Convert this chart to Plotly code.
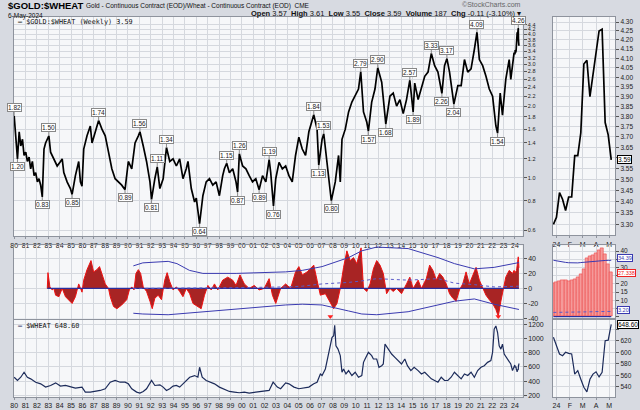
import math
from datetime import date
import plotly.graph_objects as go

W, H = 640, 410

# ---------------- DATA ----------------
# $GOLD:$WHEAT weekly ratio (decimal years / values)
ratio_years = [1980.00,1980.15,1980.29,1980.44,1980.58,1980.73,1980.87,1981.02,1981.16,1981.31,
               1981.45,1981.60,1981.75,1981.89,1982.04,1982.18,1982.33,1982.47,1982.62,1982.76,
               1983.05,1983.20,1983.34,1983.49,1983.78,1984.07,1984.22,1984.36,1984.65,1984.94,
               1985.09,1985.38,1985.67,1985.82,1985.96,1986.11,1986.40,1986.69,1986.84,1987.13,
               1987.42,1987.71,1988.00,1988.29,1988.58,1988.87,1989.16,1989.45,1989.74,1990.03,
               1990.33,1990.62,1990.91,1991.05,1991.34,1991.63,1991.93,1992.07,1992.36,1992.57,
               1992.80,1993.09,1993.38,1993.67,1993.96,1994.25,1994.54,1994.83,1995.12,1995.27,
               1995.56,1995.85,1996.00,1996.29,1996.58,1996.87,1997.16,1997.45,1997.74,1998.03,
               1998.32,1998.47,1998.67,1998.91,1999.20,1999.49,1999.63,1999.78,2000.07,2000.36,
               2000.65,2000.94,2001.23,2001.52,2001.82,2002.11,2002.40,2002.54,2002.78,2002.98,
               2003.27,2003.56,2003.85,2004.14,2004.43,2004.72,2005.01,2005.31,2005.60,2005.89,
               2006.32,2006.61,2006.76,2007.05,2007.20,2007.49,2007.86,2008.21,2008.50,2008.65,
               2008.80,2009.09,2009.38,2009.67,2009.96,2010.25,2010.45,2010.69,2010.98,2011.12,
               2011.41,2011.70,2011.94,2012.29,2012.65,2013.01,2013.30,2013.60,2013.89,2014.18,
               2014.47,2014.76,2015.05,2015.19,2015.49,2015.78,2016.07,2016.36,2016.65,2016.94,
               2017.23,2017.58,2017.81,2018.02,2018.25,2018.63,2018.98,2019.27,2019.56,2019.85,
               2020.14,2020.43,2020.66,2020.87,2021.16,2021.45,2021.74,2022.03,2022.32,2022.47,
               2022.70,2022.90,2023.19,2023.49,2023.63,2023.92]
ratio_vals = [1.82,1.45,1.20,1.56,1.36,1.45,1.24,1.28,1.17,1.22,
              1.09,1.17,1.02,1.05,0.96,0.99,0.93,0.83,1.32,1.40,
              1.50,1.28,1.24,1.20,1.12,1.17,1.20,1.05,0.96,0.90,
              0.85,1.02,1.17,0.96,0.92,1.32,1.50,1.65,1.40,1.56,
              1.74,1.60,1.50,1.28,1.09,0.99,0.96,0.93,0.89,1.17,
              1.09,1.40,1.50,1.56,1.36,1.17,0.96,0.81,0.99,1.11,
              0.90,0.99,1.34,1.17,1.20,1.12,1.20,0.99,1.09,1.17,
              0.90,0.79,0.82,0.64,0.84,0.96,0.99,0.93,0.96,0.84,
              1.02,1.09,1.15,1.05,1.09,0.96,0.87,1.26,1.12,1.09,
              1.02,0.96,0.99,0.89,1.02,0.96,1.19,1.05,0.76,0.99,
              1.16,1.09,1.12,1.02,0.96,1.24,1.48,1.32,1.24,1.56,
              1.84,1.60,1.13,1.45,1.53,1.17,0.80,0.96,1.24,0.96,
              1.45,1.60,1.89,2.08,2.22,2.36,2.79,1.89,1.71,1.57,
              2.08,2.36,2.90,2.52,1.68,2.20,2.27,2.00,2.13,1.86,
              2.13,2.57,1.89,2.50,2.13,2.36,2.67,2.78,3.33,2.96,
              2.78,2.26,2.96,3.17,2.78,2.04,2.44,2.44,3.14,2.78,
              2.87,3.46,4.09,3.14,2.96,2.67,2.36,2.20,1.65,1.54,
              2.27,1.83,2.59,3.14,2.59,3.36]

# $WHEAT weekly close
wheat_years = [1980.00,1980.29,1980.58,1980.87,1981.16,1981.45,1981.89,1982.33,1982.76,1983.20,
               1983.64,1984.07,1984.51,1984.94,1985.38,1985.96,1986.25,1986.69,1987.13,1987.56,
               1988.00,1988.44,1988.87,1989.31,1989.74,1990.03,1990.33,1990.76,1991.05,1991.34,
               1991.63,1992.07,1992.36,1992.80,1993.09,1993.38,1993.67,1993.96,1994.25,1994.54,
               1994.83,1995.12,1995.42,1995.85,1996.14,1996.29,1996.52,1996.87,1997.31,1997.60,
               1998.03,1998.47,1998.91,1999.34,1999.78,2000.22,2000.65,2001.23,2001.82,2002.40,
               2002.75,2003.12,2003.41,2003.85,2004.14,2004.58,2005.01,2005.45,2005.89,2006.32,
               2006.61,2006.90,2007.05,2007.34,2007.63,2007.78,2007.92,2008.07,2008.16,2008.27,
               2008.45,2008.65,2008.80,2008.94,2009.15,2009.38,2009.67,2009.96,2010.25,2010.54,
               2010.69,2010.83,2011.12,2011.41,2011.56,2011.85,2012.05,2012.29,2012.43,2012.58,
               2012.87,2013.16,2013.45,2013.74,2014.03,2014.32,2014.55,2014.85,2015.14,2015.49,
               2015.78,2016.07,2016.36,2016.65,2016.94,2017.23,2017.52,2017.81,2018.10,2018.39,
               2018.68,2018.98,2019.27,2019.56,2019.85,2020.14,2020.43,2020.72,2021.01,2021.30,
               2021.59,2021.88,2022.03,2022.17,2022.32,2022.47,2022.61,2022.76,2022.90,2023.05,
               2023.34,2023.63,2023.78,2023.92]
wheat_vals = [455,409,455,525,455,432,385,362,316,339,
              376,330,339,316,302,316,246,246,255,269,
              293,385,409,385,385,362,293,246,232,255,
              293,409,339,348,316,269,293,330,339,316,
              362,409,455,478,455,595,455,409,385,362,
              316,283,255,246,237,246,232,246,255,269,
              385,316,293,376,362,316,293,302,316,362,
              385,501,479,571,804,920,1013,1037,1185,897,
              850,758,525,571,501,548,479,525,455,479,
              664,711,804,758,711,711,594,617,641,920,
              850,781,734,688,641,711,617,548,594,548,
              501,525,479,432,409,385,455,409,409,455,
              525,479,432,501,479,525,455,548,594,617,
              664,688,804,1129,1175,1083,897,850,920,781,
              711,641,548,594]

# oscillator (lower-middle panel)
osc_years = [1982.91,1982.97,1983.14,1983.34,1983.49,1983.64,1983.93,1984.22,1984.51,1984.80,
             1985.09,1985.38,1985.67,1985.96,1986.11,1986.40,1986.75,1986.98,1987.27,1987.50,
             1987.71,1988.00,1988.29,1988.44,1988.73,1989.02,1989.45,1989.89,1990.12,1990.33,
             1990.53,1990.70,1990.91,1991.11,1991.34,1991.63,1991.93,1992.13,1992.36,1992.65,
             1992.94,1993.23,1993.44,1993.67,1993.96,1994.25,1994.54,1994.83,1995.12,1995.42,
             1995.71,1996.14,1996.43,1996.72,1997.02,1997.31,1997.60,1997.89,1998.32,1998.76,
             1999.20,1999.49,1999.84,2000.22,2000.65,2001.09,2001.52,2001.96,2002.40,2002.69,
             2002.98,2003.41,2003.85,2004.29,2004.72,2005.01,2005.31,2005.74,2006.03,2006.32,
             2006.61,2006.90,2007.34,2007.78,2008.07,2008.36,2008.65,2008.94,2009.23,2009.52,
             2009.81,2010.10,2010.48,2010.69,2010.98,2011.27,2011.56,2011.85,2012.14,2012.43,
             2012.72,2013.01,2013.30,2013.60,2014.03,2014.47,2014.76,2015.05,2015.49,2015.78,
             2016.21,2016.50,2016.79,2017.09,2017.38,2017.67,2017.96,2018.25,2018.54,2018.83,
             2019.12,2019.41,2019.70,2019.99,2020.28,2020.58,2020.87,2021.16,2021.45,2021.74,
             2022.03,2022.32,2022.53,2022.76,2022.99,2023.19,2023.49,2023.78,2023.92]
osc_vals = [0,21,2,-2,0,-9,-11,0,-11,-16,
            -20,-11,6,-5,11,25,37,22,25,29,
            18,6,0,-11,-24,-27,-22,-15,-2,2,
            -2,20,25,20,2,-4,-17,-27,-13,-9,
            -15,11,21,9,-2,2,-4,-11,0,-7,
            -20,-24,-27,-9,4,-2,6,-2,11,15,
            11,4,18,6,0,4,-2,0,13,-9,
            -20,0,6,0,22,29,18,22,26,31,
            11,-9,-7,-20,-27,-20,0,28,50,37,
            41,33,54,0,-4,6,26,37,31,20,
            -7,0,-4,0,-7,6,15,0,11,0,
            13,31,24,11,20,15,6,-7,-13,-17,
            -2,6,22,6,18,28,11,0,-9,-15,
            -20,-28,-37,-17,-2,15,24,20,24]

band_years = [1990.47,1991.30,1993.53,1994.30,1995.40,1996.58,1999.50,2003.85,2005.31,2007.05,
              2009.38,2010.54,2011.85,2014.61,2017.23,2018.68,2020.43,2022.17,2024.35]
band_upper = [30,34,36,33,24,20,20,22,24,29,41,50,55,53,41,33,26,28,34.4]
band_lower = [-33,-34,-35,-34,-33,-31,-27,-22,-21,-22,-30,-34,-35,-31,-22,-17,-14,-21,-28]
band_mid = [0,0,0,0,0,0,1,2,3,6,8,10,13,11,13,7,5,2,3]
signal_years = [2007.78, 2022.53]

# 2024 inset (weekly)
inset_dates = ["2023-12-25","2024-01-01","2024-01-08","2024-01-15","2024-01-22","2024-01-29",
               "2024-02-05","2024-02-12","2024-02-19","2024-02-26","2024-03-04","2024-03-11",
               "2024-03-18","2024-03-25","2024-04-01","2024-04-08","2024-04-15","2024-04-22",
               "2024-04-29","2024-05-06"]
inset_ratio = [3.30,3.33,3.44,3.41,3.36,3.42,3.42,3.61,3.61,3.72,4.07,4.09,3.90,4.01,4.15,4.25,4.26,3.77,3.71,3.59]
inset_osc = [20.5,21,21.5,22,22.5,21.8,22.4,23,24,26,29,35.5,36.8,37.5,39,40.5,42,38,32,27.338]
inset_upper = [34.4,34.0,33.6,33.3,33.1,32.9,32.8,32.7,32.8,33.0,33.2,33.4,33.6,33.8,34.0,34.1,34.2,34.3,34.35,34.39]
inset_mid = [2.6,2.6,2.7,2.7,2.7,2.8,2.8,2.8,2.9,2.9,2.9,3.0,3.0,3.0,3.1,3.1,3.1,3.2,3.2,3.2]
inset_wheat = [626,612,597,594,600,598,597,562,568,553,539,531,553,562,566,557,565,620,621,648.6]

# peak / trough labels on main panel
peak_years = [1980.00,1983.05,1987.42,1991.05,1992.57,1993.38,1998.67,1999.78,2002.40,2006.32,
              2007.20,2010.45,2011.94,2014.76,2016.65,2018.02,2020.66,2024.29]
peak_vals = [1.82,1.50,1.74,1.56,1.11,1.34,1.15,1.26,1.19,1.84,1.53,2.79,2.90,2.57,3.33,3.17,4.09,4.26]
trough_years = [1980.29,1982.47,1985.09,1989.74,1992.07,1996.29,1999.63,2001.52,2002.78,2006.76,
                2007.86,2011.12,2012.65,2015.05,2017.58,2018.63,2022.47]
trough_vals = [1.20,0.83,0.85,0.89,0.81,0.64,0.87,0.89,0.76,1.13,0.80,1.57,1.68,1.89,2.26,2.04,1.54]

year_ticks = list(range(1980, 2025))
year_text = ["%02d" % (y % 100) for y in year_ticks]
main_ticks = [0.6,0.8,1.0,1.2,1.4,1.6,1.8,2.0,2.2,2.4,2.6,2.8,3.0,3.2,3.4,3.6,3.8,4.0,4.2,4.4]
inset_ticks = [3.30,3.35,3.40,3.45,3.50,3.55,3.60,3.65,3.70,3.75,3.80,3.85,3.90,3.95,4.00,4.05,4.10,4.15,4.20,4.25,4.30]
inset_hidden = [3.60]            # covered by the last-value box
osc_ticks = [-40,-20,0,20,40]
osc_inset_ticks = [0,5,10,15,20,25,30,35,40]
osc_inset_hidden = [0,5,25,35]   # covered by value boxes
wheat_ticks = [200,400,600,800,1000,1200]
wheat_inset_ticks = [540,560,580,600,620,640]
wheat_inset_hidden = [640]
month_ticks = ["2024-01-01","2024-02-01","2024-03-01","2024-04-01","2024-05-01"]
month_text = ["24","F","M","A","M"]

assert len(ratio_years) == len(ratio_vals)
assert len(wheat_years) == len(wheat_vals)
assert len(osc_years) == len(osc_vals)
assert len(band_years) == len(band_upper) == len(band_lower) == len(band_mid)


# ---------------- helpers ----------------
def dec_year(s):
    d = date.fromisoformat(s)
    a, b = date(d.year, 1, 1), date(d.year + 1, 1, 1)
    return d.year + (d - a).days / (b - a).days


def px(p):
    return p / W


def py(p):
    return 1 - p / H


def labels(vals, fmt, hidden=()):
    return ["" if v in hidden else fmt % v for v in vals]


inset_years = [dec_year(d) for d in inset_dates]
all_ratio_x = ratio_years + inset_years
all_ratio_y = ratio_vals + inset_ratio
all_wheat_x = wheat_years + inset_years
all_wheat_y = wheat_vals + inset_wheat
all_osc_x = osc_years + inset_years
all_osc_y = osc_vals + inset_osc

PAPER = "#d7dae1"
PLOT = "#f6f7f9"
GRID = "#d5d8de"
BORDER = "#8e939d"
TXT = "#222222"
FONT = "Liberation Sans"

fig = go.Figure()

fig.add_trace(go.Scatter(x=all_ratio_x, y=all_ratio_y, mode="lines",
                         line=dict(color="#000000", width=1.7), xaxis="x", yaxis="y"))
fig.add_trace(go.Scatter(x=inset_dates, y=inset_ratio, mode="lines",
                         line=dict(color="#000000", width=1.7), xaxis="x2", yaxis="y2"))
fig.add_trace(go.Scatter(x=all_osc_x, y=all_osc_y, mode="lines", fill="tozeroy",
                         fillcolor="#a82424", line=dict(color="#ee1111", width=1),
                         xaxis="x3", yaxis="y3"))
fig.add_trace(go.Scatter(x=[all_osc_x[0], all_osc_x[-1]], y=[0, 0], mode="lines",
                         line=dict(color="#2b2f9e", width=1.4), xaxis="x3", yaxis="y3"))
fig.add_trace(go.Scatter(x=band_years, y=band_upper, mode="lines",
                         line=dict(color="#3a3ab0", width=1), xaxis="x3", yaxis="y3"))
fig.add_trace(go.Scatter(x=band_years, y=band_lower, mode="lines",
                         line=dict(color="#3a3ab0", width=1), xaxis="x3", yaxis="y3"))
fig.add_trace(go.Scatter(x=band_years, y=band_mid, mode="lines",
                         line=dict(color="#5a5ac8", width=1, dash="dot"), xaxis="x3", yaxis="y3"))
fig.add_trace(go.Scatter(x=signal_years, y=[-37.5] * len(signal_years), mode="markers",
                         marker=dict(symbol="triangle-down", size=5, color="#ff2020"),
                         xaxis="x3", yaxis="y3"))
fig.add_trace(go.Bar(x=inset_dates, y=inset_osc,
                     marker=dict(color="#f59a9a", line=dict(color="#ee4444", width=0.6)),
                     width=[6.048e8] * len(inset_dates), xaxis="x4", yaxis="y4"))
fig.add_trace(go.Scatter(x=inset_dates, y=inset_upper, mode="lines",
                         line=dict(color="#3a3ab0", width=1), xaxis="x4", yaxis="y4"))
fig.add_trace(go.Scatter(x=inset_dates, y=inset_mid, mode="lines",
                         line=dict(color="#5a5ac8", width=1, dash="dot"), xaxis="x4", yaxis="y4"))
fig.add_trace(go.Scatter(x=[inset_dates[0], inset_dates[-1]], y=[0, 0], mode="lines",
                         line=dict(color="#2b2f9e", width=1.4), xaxis="x4", yaxis="y4"))
fig.add_trace(go.Scatter(x=all_wheat_x, y=all_wheat_y, mode="lines",
                         line=dict(color="#1c2b5a", width=1.2), xaxis="x5", yaxis="y5"))
fig.add_trace(go.Scatter(x=inset_dates, y=inset_wheat, mode="lines",
                         line=dict(color="#1c2b5a", width=1.2), xaxis="x6", yaxis="y6"))


def xax(domain, rng, tickvals, ticktext, show, typ="linear", anchor="y"):
    return dict(domain=domain, range=rng, type=typ, tickmode="array", tickvals=tickvals,
                ticktext=ticktext, showticklabels=show, ticks="outside" if show else "",
                ticklen=2, tickcolor=BORDER, tickangle=0,
                tickfont=dict(family=FONT, size=7, color=TXT),
                showgrid=True, gridcolor=GRID, gridwidth=1, zeroline=False,
                showline=True, mirror=True, linecolor=BORDER, linewidth=1, anchor=anchor,
                fixedrange=True)


def yax(domain, rng, tickvals, ticktext, anchor, typ="linear", size=7):
    return dict(domain=domain, range=rng, type=typ, tickmode="array", tickvals=tickvals,
                ticktext=ticktext, side="right", ticks="outside", ticklen=3, tickcolor="#555",
                tickfont=dict(family=FONT, size=size, color=TXT), showgrid=True,
                gridcolor=GRID, gridwidth=1, zeroline=False, showline=True, mirror=True,
                linecolor=BORDER, linewidth=1, anchor=anchor, fixedrange=True)


XMAIN = [px(10), px(522)]
XINS = [px(552), px(615)]
YR = [1979.98, 2024.68]
DR = ["2023-12-23", "2024-05-15"]

fig.update_layout(
    width=W, height=H, autosize=False, margin=dict(l=0, r=0, t=0, b=0),
    paper_bgcolor=PAPER, plot_bgcolor=PLOT, showlegend=False, bargap=0,
    xaxis=xax(XMAIN, YR, year_ticks, year_text, True, anchor="y"),
    yaxis=yax([py(238), py(17)], [math.log10(0.5671), math.log10(4.746)], main_ticks,
              labels(main_ticks, "%.1f"), "x", typ="log", size=5.5),
    xaxis2=xax(XINS, DR, month_ticks, month_text, True, typ="date", anchor="y2"),
    yaxis2=yax([py(237), py(17)], [math.log10(3.253), math.log10(4.329)], inset_ticks,
               labels(inset_ticks, "%.2f", inset_hidden), "x2", typ="log", size=6.5),
    xaxis3=xax(XMAIN, YR, year_ticks, year_text, False, anchor="y3"),
    yaxis3=yax([py(321), py(247)], [-40.2, 57.5], osc_ticks, labels(osc_ticks, "%d"), "x3"),
    xaxis4=xax(XINS, DR, month_ticks, month_text, False, typ="date", anchor="y4"),
    yaxis4=yax([py(320), py(247)], [-0.6, 43.6], osc_inset_ticks,
               labels(osc_inset_ticks, "%d", osc_inset_hidden), "x4", size=6.5),
    xaxis5=xax(XMAIN, YR, year_ticks, year_text, True, anchor="y5"),
    yaxis5=yax([py(400), py(322)], [176, 1264], wheat_ticks, labels(wheat_ticks, "%d"), "x5"),
    xaxis6=xax(XINS, DR, month_ticks, month_text, True, typ="date", anchor="y6"),
    yaxis6=yax([py(400), py(322)], [522, 656.7], wheat_inset_ticks,
               labels(wheat_inset_ticks, "%d", wheat_inset_hidden), "x6", size=6.5),
)

ann = []
lab = dict(showarrow=True, arrowhead=0, arrowwidth=1, arrowcolor="#888", ax=0,
           bgcolor="#ffffff", bordercolor="#888", borderwidth=1, borderpad=0,
           font=dict(family=FONT, size=6.5, color=TXT), xref="x", yref="y")
for yv, v in zip(peak_years, peak_vals):
    ann.append(dict(x=yv, y=math.log10(v), text="%.2f" % v, ay=-8, **lab))
for yv, v in zip(trough_years, trough_vals):
    ann.append(dict(x=yv, y=math.log10(v), text="%.2f" % v, ay=8, **lab))

ann += [
    dict(x=px(2), y=py(6), xref="paper", yref="paper", xanchor="left", yanchor="middle", showarrow=False,
         text="<b>$GOLD:$WHEAT</b>", font=dict(family=FONT, size=9.5, color="#000")),
    dict(x=px(80), y=py(6.5), xref="paper", yref="paper", xanchor="left", yanchor="middle", showarrow=False,
         text="Gold - Continuous Contract (EOD)/Wheat - Continuous Contract (EOD)  CME",
         font=dict(family=FONT, size=6.5, color="#111")),
    dict(x=px(2), y=py(16), xref="paper", yref="paper", xanchor="left", yanchor="middle", showarrow=False,
         text="6-May-2024", font=dict(family=FONT, size=6.5, color="#111")),
    dict(x=px(522), y=py(13.5), xref="paper", yref="paper", xanchor="right", yanchor="middle", showarrow=False,
         text="<b>Open</b> 3.57  <b>High</b> 3.61  <b>Low</b> 3.55  <b>Close</b> 3.59  <b>Volume</b> 187  <b>Chg</b> -0.11 (-3.10%) ▾",
         font=dict(family=FONT, size=7.5, color="#111")),
    dict(x=px(522), y=py(5), xref="paper", yref="paper", xanchor="right", yanchor="middle", showarrow=False,
         text="©StockCharts.com", font=dict(family=FONT, size=7, color="#666")),
    dict(x=px(12), y=py(22.5), xref="paper", yref="paper", xanchor="left", yanchor="middle", showarrow=False,
         text="<b>—</b> $GOLD:$WHEAT (Weekly) 3.59", font=dict(family="DejaVu Sans Mono", size=6.8, color="#111")),
    dict(x=px(12), y=py(328), xref="paper", yref="paper", xanchor="left", yanchor="middle", showarrow=False,
         text="<b><span style='color:#1c2b5a'>—</span></b> $WHEAT 648.60",
         font=dict(family="DejaVu Sans Mono", size=6.8, color="#111")),
]

box = dict(xref="paper", x=px(617), xanchor="left", showarrow=False, bgcolor="#ffffff",
           borderwidth=1, borderpad=0)
ann += [
    dict(yref="y2", y=math.log10(inset_ratio[-1]), text="%.2f" % inset_ratio[-1], bordercolor="#000",
         font=dict(family=FONT, size=6.5, color="#000"), **box),
    dict(yref="y4", y=inset_upper[-1], yshift=2, text="%.2f" % inset_upper[-1], bordercolor="#3a3ab0",
         font=dict(family=FONT, size=5.5, color="#3a3ab0"), **box),
    dict(yref="y4", y=inset_osc[-1], yshift=-1.5, text="%.3f" % inset_osc[-1], bordercolor="#ee2222",
         font=dict(family=FONT, size=5.5, color="#ee2222"), **box),
    dict(yref="y4", y=inset_mid[-1] + 1.0, text="%.2f" % inset_mid[-1], bordercolor="#3a3ab0",
         font=dict(family=FONT, size=5.5, color="#3a3ab0"), **box),
    dict(yref="y4", y=-1.8, text="0.0000", bordercolor="#3a3ab0",
         font=dict(family=FONT, size=5.5, color="#3a3ab0"), **box),
    dict(yref="y6", y=inset_wheat[-1], text="%.2f" % inset_wheat[-1], bordercolor="#000",
         font=dict(family=FONT, size=6.5, color="#000"), **box),
]
fig.update_layout(annotations=ann)

fig.write_html("out.html")
